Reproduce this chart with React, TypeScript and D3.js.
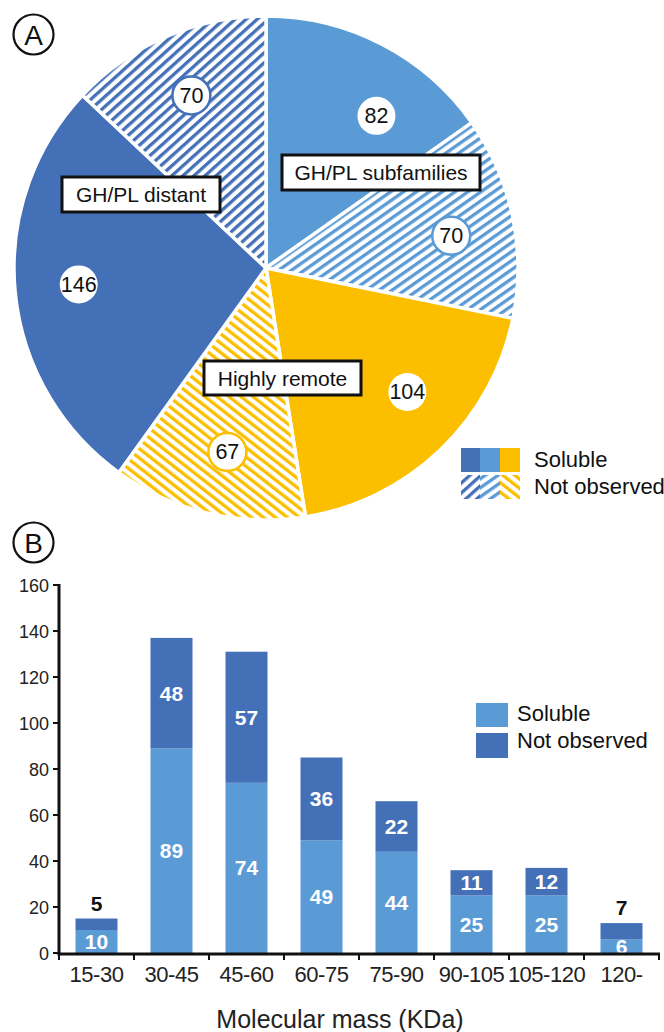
import React from "react";
import * as d3 from "d3";

// ---------- Data ----------
const pieLabels = ["GH/PL subfamilies soluble", "GH/PL subfamilies not observed", "Highly remote soluble", "Highly remote not observed", "GH/PL distant soluble", "GH/PL distant not observed"];
const pieValues = [82, 70, 104, 67, 146, 70];
const groupNames = ["GH/PL subfamilies", "Highly remote", "GH/PL distant"];

const massCategories = ["15-30", "30-45", "45-60", "60-75", "75-90", "90-105", "105-120", "120-"];
const solubleValues = [10, 89, 74, 49, 44, 25, 25, 6];
const notObservedValues = [5, 48, 57, 36, 22, 11, 12, 7];
const yTicks = [0, 20, 40, 60, 80, 100, 120, 140, 160];

// ---------- Styles ----------
const DARK = "#4470B8";
const LIGHT = "#5B9BD5";
const YELLOW = "#FBBF00";
const FONT = "'Liberation Sans', Arial, sans-serif";

const sliceFill = ["", "url(#hatchLight)", "", "url(#hatchYellow)", "", "url(#hatchDark)"];
const sliceColor = [LIGHT, LIGHT, YELLOW, YELLOW, DARK, DARK];
const sliceHatched = [false, true, false, true, false, true];
const labelShiftDeg = [8.6, 2, -5, -1.5, 0.5, 0];

export default function App() {
  const cx = 266, cy = 268, R = 252;
  const pie = d3.pie<number>().sort(null).value((d) => d)(pieValues);
  const arc = d3.arc<d3.PieArcDatum<number>>().innerRadius(0).outerRadius(R);

  const x = d3.scaleBand<string>().domain(massCategories).range([59, 659]).paddingInner(0.44).paddingOuter(0.22);
  const y = d3.scaleLinear().domain([0, 160]).range([953, 585]);
  const step = x.step();

  const labelPos = (i: number) => {
    const a = (pie[i].startAngle + pie[i].endAngle) / 2 + (labelShiftDeg[i] * Math.PI) / 180;
    const r = 188;
    return [cx + r * Math.sin(a), cy - r * Math.cos(a)];
  };

  const boxes = [
    { text: groupNames[0], x: 282, y: 155, w: 198, h: 35 },
    { text: groupNames[2], x: 62, y: 177, w: 158, h: 35 },
    { text: groupNames[1], x: 204, y: 361, w: 157, h: 34 },
  ];

  return (
    <svg width={664} height={1032} style={{ position: "absolute", left: 0, top: 0, fontFamily: FONT }}>
      <defs>
        <pattern id="hatchDark" patternUnits="userSpaceOnUse" width={7.4} height={10} patternTransform="rotate(48)">
          <rect width={7.4} height={10} fill="#fff" />
          <rect width={3.3} height={10} fill={DARK} />
        </pattern>
        <pattern id="hatchLight" patternUnits="userSpaceOnUse" width={7.4} height={10} patternTransform="rotate(55)">
          <rect width={7.4} height={10} fill="#fff" />
          <rect width={3.3} height={10} fill={LIGHT} />
        </pattern>
        <pattern id="hatchYellow" patternUnits="userSpaceOnUse" width={7.4} height={10} patternTransform="rotate(-52)">
          <rect width={7.4} height={10} fill="#fff" />
          <rect width={3.3} height={10} fill={YELLOW} />
        </pattern>
      </defs>

      {/* Panel A label */}
      <circle cx={33.5} cy={34.5} r={20} fill="none" stroke="#111" strokeWidth={2.2} />
      <text x={33.5} y={44.5} textAnchor="middle" fontSize={28} fill="#111">A</text>

      {/* Pie */}
      <g transform={`translate(${cx},${cy})`}>
        {pie.map((p, i) => (
          <path key={i} d={arc(p) || ""} fill={sliceHatched[i] ? sliceFill[i] : sliceColor[i]} stroke="#fff" strokeWidth={3.5} strokeLinejoin="round" />
        ))}
      </g>
      {pie.map((p, i) => {
        const [lx, ly] = labelPos(i);
        return (
          <g key={"l" + i}>
            <circle cx={lx} cy={ly} r={19} fill="#fff" stroke={sliceHatched[i] ? sliceColor[i] : "none"} strokeWidth={2.5} />
            <text x={lx} y={ly + 7.5} textAnchor="middle" fontSize={21.5} fill="#111">{pieValues[i]}</text>
          </g>
        );
      })}
      {boxes.map((b, i) => (
        <g key={"b" + i}>
          <rect x={b.x} y={b.y} width={b.w} height={b.h} fill="#fff" stroke="#111" strokeWidth={3} />
          <text x={b.x + b.w / 2} y={b.y + b.h / 2 + 7.5} textAnchor="middle" fontSize={21} fill="#111">{b.text}</text>
        </g>
      ))}

      {/* Legend A */}
      <rect x={461} y={448} width={19} height={24} fill={DARK} />
      <rect x={480} y={448} width={20} height={24} fill={LIGHT} />
      <rect x={500} y={448} width={20} height={24} fill={YELLOW} />
      <rect x={461} y={475} width={19} height={24} fill="url(#hatchDark)" />
      <rect x={480} y={475} width={20} height={24} fill="url(#hatchLight)" />
      <rect x={500} y={475} width={20} height={24} fill="url(#hatchYellow)" />
      <text x={534} y={467} fontSize={22} fill="#111">Soluble</text>
      <text x={534} y={494} fontSize={22} fill="#111">Not observed</text>

      {/* Panel B label */}
      <circle cx={33.5} cy={542.5} r={20} fill="none" stroke="#111" strokeWidth={2.2} />
      <text x={33.5} y={552.5} textAnchor="middle" fontSize={28} fill="#111">B</text>

      {/* Bars */}
      {massCategories.map((c, i) => {
        const bx = x(c)!;
        const bw = x.bandwidth();
        const s = solubleValues[i];
        const n = notObservedValues[i];
        const small = s + n < 20;
        return (
          <g key={c}>
            <rect x={bx} y={y(s)} width={bw} height={y(0) - y(s)} fill={LIGHT} />
            <rect x={bx} y={y(s + n)} width={bw} height={y(s) - y(s + n)} fill={DARK} />
            <text x={bx + bw / 2} y={(y(0) + y(s)) / 2 + 7.5} textAnchor="middle" fontSize={21} fontWeight="bold" fill="#fff">{s}</text>
            {small ? (
              <text x={bx + bw / 2} y={y(s + n) - 8} textAnchor="middle" fontSize={21} fontWeight="bold" fill="#111">{n}</text>
            ) : (
              <text x={bx + bw / 2} y={(y(s) + y(s + n)) / 2 + 7.5} textAnchor="middle" fontSize={21} fontWeight="bold" fill="#fff">{n}</text>
            )}
          </g>
        );
      })}

      {/* Y axis */}
      <line x1={59} x2={59} y1={y(160) - 1} y2={y(0) + 1.5} stroke="#111" strokeWidth={3} />
      {yTicks.map((t) => (
        <g key={"y" + t}>
          <line x1={53} x2={59} y1={y(t)} y2={y(t)} stroke="#111" strokeWidth={2} />
          <text x={49} y={y(t) + 6.5} textAnchor="end" fontSize={18} fill="#222">{t}</text>
        </g>
      ))}

      {/* X axis */}
      <line x1={57.5} x2={660} y1={y(0) + 1} y2={y(0) + 1} stroke="#111" strokeWidth={3} />
      {d3.range(massCategories.length + 1).map((k) => {
        const tx = x.range()[0] + k * step;
        return <line key={"xt" + k} x1={tx} x2={tx} y1={y(0)} y2={y(0) + 7} stroke="#111" strokeWidth={2} />;
      })}
      {massCategories.map((c) => (
        <text key={"xl" + c} x={x(c)! + x.bandwidth() / 2} y={982} textAnchor="middle" fontSize={22} fill="#222" letterSpacing={-0.5}>{c}</text>
      ))}
      <text x={340} y={1028} textAnchor="middle" fontSize={25} fill="#222">Molecular mass (KDa)</text>

      {/* Legend B */}
      <rect x={476} y={703} width={32} height={24} fill={LIGHT} />
      <rect x={476} y={733} width={32} height={25} fill={DARK} />
      <text x={517} y={721} fontSize={22} fill="#111">Soluble</text>
      <text x={517} y={748} fontSize={22} fill="#111">Not observed</text>
    </svg>
  );
}
